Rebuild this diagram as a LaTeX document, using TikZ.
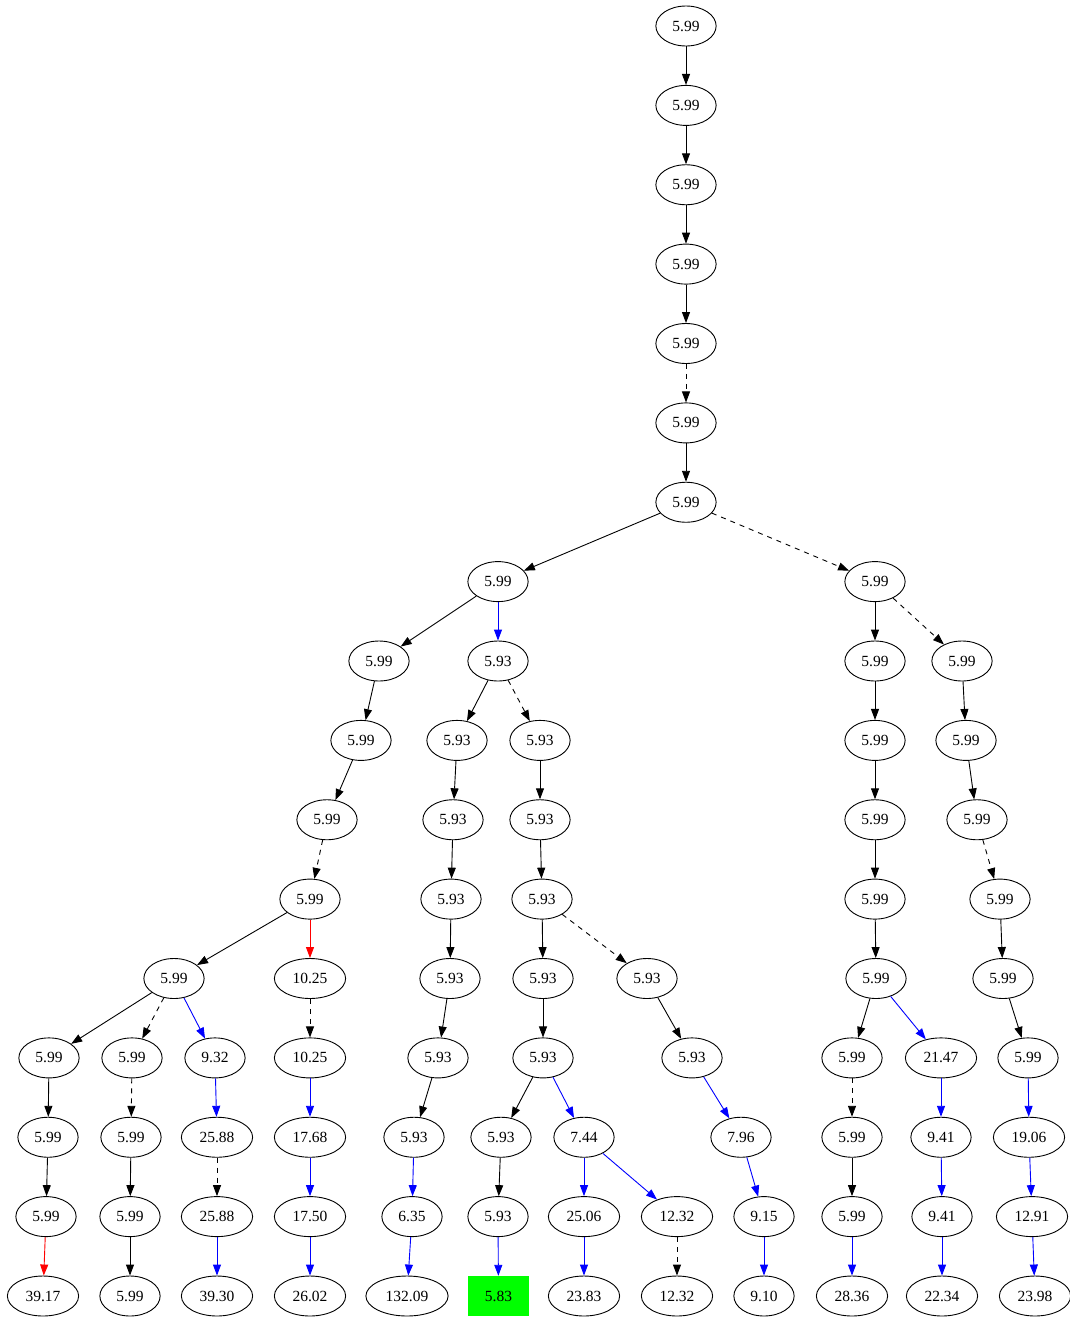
\documentclass[tikz,border=0pt]{standalone}
\usepackage{fontspec}
\setmainfont{Liberation Serif}
\usetikzlibrary{arrows.meta,shapes.geometric}
\begin{document}
\begin{tikzpicture}[x=1pt,y=-1pt,
  el/.style={draw,ellipse,line width=0.9pt,minimum width=60pt,minimum height=40pt,inner xsep=7.75pt,inner ysep=2pt,font=\fontsize{15.5}{18}\selectfont},
  gbox/.style={rectangle,fill={rgb,255:red,0;green,255;blue,0},minimum width=61pt,minimum height=40pt,font=\fontsize{15.5}{18}\selectfont},
  e/.style={-{Triangle[length=11pt,width=8pt]},line width=0.9pt},
  dsh/.style={e,dash pattern=on 5pt off 5pt},
  bl/.style={e,color={rgb,255:red,0;green,0;blue,255}},
  rd/.style={e,color={rgb,255:red,255;green,0;blue,0}}]
\useasboundingbox (0,0) rectangle (1070,1317);
% trunk
\node[el] (a0) at (686,26) {5.99};
\node[el] (a1) at (686,105.4) {5.99};
\node[el] (a2) at (686,184.75) {5.99};
\node[el] (a3) at (686,264.1) {5.99};
\node[el] (a4) at (686,343.5) {5.99};
\node[el] (a5) at (686,422.9) {5.99};
\node[el] (a6) at (686,502.25) {5.99};
% row 7
\node[el] (l7) at (498,581.6) {5.99};
\node[el] (r7) at (875,581.6) {5.99};
% row 8
\node[el] (n8a) at (379,661) {5.99};
\node[el] (n8b) at (498,661) {5.93};
\node[el] (n8c) at (875,661) {5.99};
\node[el] (n8d) at (962,661) {5.99};
% row 9
\node[el] (n9a) at (361,740.4) {5.99};
\node[el] (n9b) at (457,740.4) {5.93};
\node[el] (n9c) at (540,740.4) {5.93};
\node[el] (n9d) at (875,740.4) {5.99};
\node[el] (n9e) at (966,740.4) {5.99};
% row 10
\node[el] (n10a) at (327,819.75) {5.99};
\node[el] (n10b) at (453,819.75) {5.93};
\node[el] (n10c) at (540,819.75) {5.93};
\node[el] (n10d) at (875,819.75) {5.99};
\node[el] (n10e) at (977,819.75) {5.99};
% row 11
\node[el] (n11a) at (310,899.1) {5.99};
\node[el] (n11b) at (451,899.1) {5.93};
\node[el] (n11c) at (542,899.1) {5.93};
\node[el] (n11d) at (875,899.1) {5.99};
\node[el] (n11e) at (1000,899.1) {5.99};
% row 12
\node[el] (n12a) at (174,978.5) {5.99};
\node[el] (n12b) at (310,978.5) {10.25};
\node[el] (n12c) at (450,978.5) {5.93};
\node[el] (n12d) at (543,978.5) {5.93};
\node[el] (n12e) at (647,978.5) {5.93};
\node[el] (n12f) at (876,978.5) {5.99};
\node[el] (n12g) at (1003,978.5) {5.99};
% row 13
\node[el] (n13a) at (49,1057.9) {5.99};
\node[el] (n13b) at (132,1057.9) {5.99};
\node[el] (n13c) at (215,1057.9) {9.32};
\node[el] (n13d) at (310,1057.9) {10.25};
\node[el] (n13e) at (438,1057.9) {5.93};
\node[el] (n13f) at (543,1057.9) {5.93};
\node[el] (n13g) at (692,1057.9) {5.93};
\node[el] (n13h) at (852,1057.9) {5.99};
\node[el] (n13i) at (941,1057.9) {21.47};
\node[el] (n13j) at (1028,1057.9) {5.99};
% row 14
\node[el] (n14a) at (48,1137.25) {5.99};
\node[el] (n14b) at (131,1137.25) {5.99};
\node[el] (n14c) at (217,1137.25) {25.88};
\node[el] (n14d) at (310,1137.25) {17.68};
\node[el] (n14e) at (414,1137.25) {5.93};
\node[el] (n14f) at (501,1137.25) {5.93};
\node[el] (n14g) at (584,1137.25) {7.44};
\node[el] (n14h) at (741,1137.25) {7.96};
\node[el] (n14i) at (852,1137.25) {5.99};
\node[el] (n14j) at (941,1137.25) {9.41};
\node[el] (n14k) at (1029,1137.25) {19.06};
% row 15
\node[el] (n15a) at (46,1216.6) {5.99};
\node[el] (n15b) at (130,1216.6) {5.99};
\node[el] (n15c) at (217,1216.6) {25.88};
\node[el] (n15d) at (310,1216.6) {17.50};
\node[el] (n15e) at (412,1216.6) {6.35};
\node[el] (n15f) at (498,1216.6) {5.93};
\node[el] (n15g) at (584,1216.6) {25.06};
\node[el] (n15h) at (677,1216.6) {12.32};
\node[el] (n15i) at (764,1216.6) {9.15};
\node[el] (n15j) at (852,1216.6) {5.99};
\node[el] (n15k) at (942,1216.6) {9.41};
\node[el] (n15l) at (1032,1216.6) {12.91};
% row 16
\node[el] (n16a) at (43,1296) {39.17};
\node[el] (n16b) at (130,1296) {5.99};
\node[el] (n16c) at (217,1296) {39.30};
\node[el] (n16d) at (310,1296) {26.02};
\node[el] (n16e) at (407,1296) {132.09};
\node[gbox] (n16f) at (498.5,1296) {5.83};
\node[el] (n16g) at (584,1296) {23.83};
\node[el] (n16h) at (677,1296) {12.32};
\node[el] (n16i) at (764,1296) {9.10};
\node[el] (n16j) at (852,1296) {28.36};
\node[el] (n16k) at (942,1296) {22.34};
\node[el] (n16l) at (1035,1296) {23.98};
% edges
\draw[e] (a0) -- (a1);
\draw[e] (a1) -- (a2);
\draw[e] (a2) -- (a3);
\draw[e] (a3) -- (a4);
\draw[dsh] (a4) -- (a5);
\draw[e] (a5) -- (a6);
\draw[e] (a6) -- (l7);
\draw[dsh] (a6) -- (r7);
\draw[e] (l7) -- (n8a);
\draw[bl] (l7) -- (n8b);
\draw[e] (r7) -- (n8c);
\draw[dsh] (r7) -- (n8d);
\draw[e] (n8a) -- (n9a);
\draw[e] (n8b) -- (n9b);
\draw[dsh] (n8b) -- (n9c);
\draw[e] (n8c) -- (n9d);
\draw[e] (n8d) -- (n9e);
\draw[e] (n9a) -- (n10a);
\draw[e] (n9b) -- (n10b);
\draw[e] (n9c) -- (n10c);
\draw[e] (n9d) -- (n10d);
\draw[e] (n9e) -- (n10e);
\draw[dsh] (n10a) -- (n11a);
\draw[e] (n10b) -- (n11b);
\draw[e] (n10c) -- (n11c);
\draw[e] (n10d) -- (n11d);
\draw[dsh] (n10e) -- (n11e);
\draw[e] (n11a) -- (n12a);
\draw[rd] (n11a) -- (n12b);
\draw[e] (n11b) -- (n12c);
\draw[e] (n11c) -- (n12d);
\draw[dsh] (n11c) -- (n12e);
\draw[e] (n11d) -- (n12f);
\draw[e] (n11e) -- (n12g);
\draw[e] (n12a) -- (n13a);
\draw[dsh] (n12a) -- (n13b);
\draw[bl] (n12a) -- (n13c);
\draw[dsh] (n12b) -- (n13d);
\draw[e] (n12c) -- (n13e);
\draw[e] (n12d) -- (n13f);
\draw[e] (n12e) -- (n13g);
\draw[e] (n12f) -- (n13h);
\draw[bl] (n12f) -- (n13i);
\draw[e] (n12g) -- (n13j);
\draw[e] (n13a) -- (n14a);
\draw[dsh] (n13b) -- (n14b);
\draw[bl] (n13c) -- (n14c);
\draw[bl] (n13d) -- (n14d);
\draw[e] (n13e) -- (n14e);
\draw[e] (n13f) -- (n14f);
\draw[bl] (n13f) -- (n14g);
\draw[bl] (n13g) -- (n14h);
\draw[dsh] (n13h) -- (n14i);
\draw[bl] (n13i) -- (n14j);
\draw[bl] (n13j) -- (n14k);
\draw[e] (n14a) -- (n15a);
\draw[e] (n14b) -- (n15b);
\draw[dsh] (n14c) -- (n15c);
\draw[bl] (n14d) -- (n15d);
\draw[bl] (n14e) -- (n15e);
\draw[e] (n14f) -- (n15f);
\draw[bl] (n14g) -- (n15g);
\draw[bl] (n14g) -- (n15h);
\draw[bl] (n14h) -- (n15i);
\draw[e] (n14i) -- (n15j);
\draw[bl] (n14j) -- (n15k);
\draw[bl] (n14k) -- (n15l);
\draw[rd] (n15a) -- (n16a);
\draw[e] (n15b) -- (n16b);
\draw[bl] (n15c) -- (n16c);
\draw[bl] (n15d) -- (n16d);
\draw[bl] (n15e) -- (n16e);
\draw[bl] (n15f) -- (n16f);
\draw[bl] (n15g) -- (n16g);
\draw[dsh] (n15h) -- (n16h);
\draw[bl] (n15i) -- (n16i);
\draw[bl] (n15j) -- (n16j);
\draw[bl] (n15k) -- (n16k);
\draw[bl] (n15l) -- (n16l);
\end{tikzpicture}
\end{document}
